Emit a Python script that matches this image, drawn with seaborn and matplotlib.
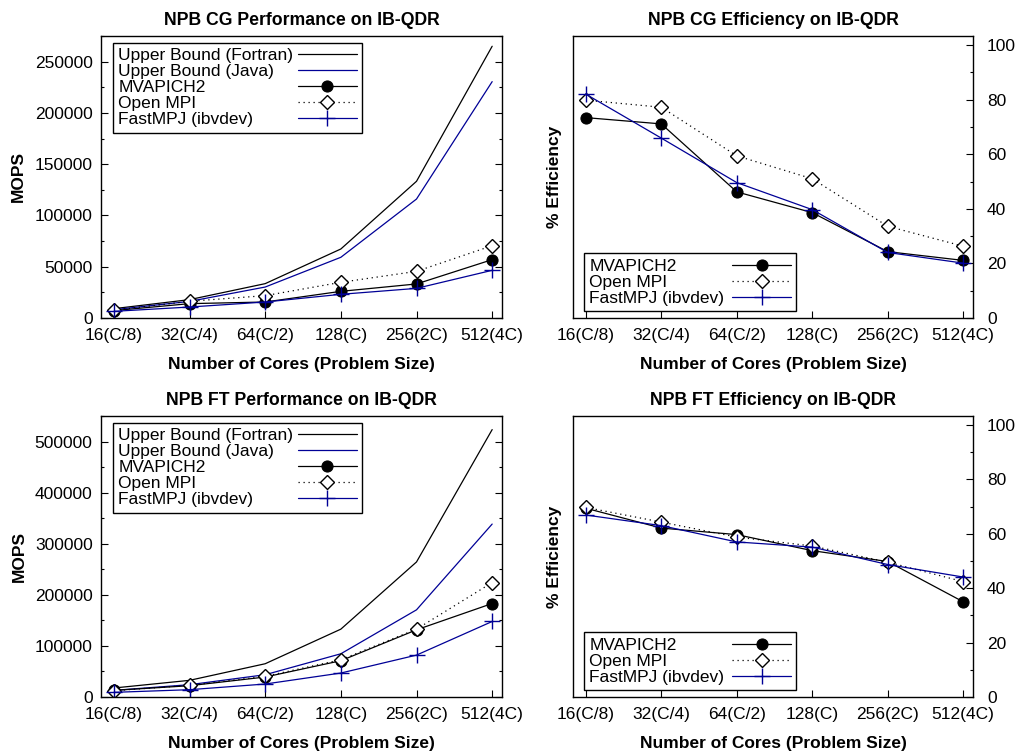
import numpy as np
import pandas as pd
import matplotlib
matplotlib.use("Agg")
import matplotlib.pyplot as plt
import seaborn as sns
from matplotlib.ticker import MultipleLocator

cores = ["16(C/8)", "32(C/4)", "64(C/2)", "128(C)", "256(2C)", "512(4C)"]

cg_fortran = [9100, 17900, 33500, 67300, 133300, 265000]
cg_java = [8100, 16200, 30200, 59200, 116000, 230500]
cg_mvapich = [7200, 14000, 15600, 26000, 33200, 56900]
cg_openmpi = [7500, 16300, 21800, 34800, 45500, 70500]
cg_fastmpj = [6500, 10700, 15600, 23100, 28900, 46500]

cg_eff_mvapich = [73.4, 71.1, 46.2, 38.6, 24.3, 21.1]
cg_eff_openmpi = [79.8, 77.2, 59.4, 51.0, 33.6, 26.3]
cg_eff_fastmpj = [82.0, 65.9, 49.6, 39.7, 24.0, 20.1]

ft_fortran = [17600, 32600, 65100, 132800, 264300, 523400]
ft_java = [13000, 24100, 43600, 84600, 170600, 338500]
ft_mvapich = [13000, 22100, 39100, 71000, 131500, 183000]
ft_openmpi = [12400, 22800, 40400, 72900, 132800, 224000]
ft_fastmpj = [9100, 14300, 25400, 46900, 82000, 147800]

ft_eff_mvapich = [69.4, 62.1, 59.7, 53.8, 49.8, 35.0]
ft_eff_openmpi = [69.7, 64.3, 58.8, 55.5, 49.6, 42.4]
ft_eff_fastmpj = [66.9, 63.0, 57.0, 55.1, 48.7, 44.1]

sns.set_style("ticks")
plt.rcParams["font.family"] = ["Liberation Sans", "DejaVu Sans"]
plt.rcParams["font.size"] = 12.5
plt.rcParams["axes.linewidth"] = 1.0
for k in ["text.color", "axes.labelcolor", "xtick.color", "ytick.color", "axes.edgecolor"]:
    plt.rcParams[k] = "black"

BLUE = "#000096"
BLACK = "#000000"

styles = {
    "Upper Bound (Fortran)": dict(color=BLACK, linestyle="-", marker=None),
    "Upper Bound (Java)": dict(color=BLUE, linestyle="-", marker=None),
    "MVAPICH2": dict(color=BLACK, linestyle="-", marker="o", markersize=8,
                     markerfacecolor=BLACK, markeredgecolor=BLACK),
    "Open MPI": dict(color=BLACK, linestyle=(0, (1, 3)), marker="D", markersize=7,
                     markerfacecolor="white", markeredgecolor=BLACK, markeredgewidth=1.0),
    "FastMPJ (ibvdev)": dict(color=BLUE, linestyle="-", marker="+", markersize=11,
                             markeredgecolor=BLUE, markeredgewidth=1.0),
}

W, H = 1019, 753
DPI = 100
fig = plt.figure(figsize=(W / DPI, H / DPI), dpi=DPI)
renderer = fig.canvas.get_renderer()

def rect(x0, y0, x1, y1):
    return [x0 / W, 1 - y1 / H, (x1 - x0) / W, (y1 - y0) / H]

def draw(ax, series):
    for name, vals in series:
        df = pd.DataFrame({"cores": cores, "value": vals})
        st = styles[name]
        sns.lineplot(data=df, x="cores", y="value", ax=ax, label=name,
                     linewidth=0.9, sort=False, **st)
    ax.set_xlim(-0.17, 5.13)

def left_align_legend(leg, base_sep):
    texts = leg.get_texts()
    widths = [t.get_window_extent(renderer).width for t in texts]
    maxw = max(widths)
    col = leg._legend_handle_box.get_children()[0]
    for entry, w in zip(col.get_children(), widths):
        entry.sep = base_sep + (maxw - w) * 72.0 / DPI

def make_legend(ax, loc, anchor, textpad):
    leg = ax.legend(loc=loc, bbox_to_anchor=anchor, borderaxespad=0,
                    markerfirst=False, fancybox=False, edgecolor="black", framealpha=1,
                    handlelength=3.4, handletextpad=textpad, labelspacing=0.05,
                    borderpad=0.3, fontsize=12.5)
    leg.get_frame().set_linewidth(1.0)
    left_align_legend(leg, textpad * 12.5)

def common(ax, title):
    ax.set_title(title, fontweight="bold", fontsize=12.7, pad=8)
    ax.set_xlabel("Number of Cores (Problem Size)", fontweight="bold", fontsize=12.5, labelpad=10)
    ax.tick_params(axis="x", direction="in", length=5, width=0.8, pad=7, top=False)
    for s in ax.spines.values():
        s.set_visible(True)
        s.set_linewidth(1.0)
        s.set_color("black")

def perf_axes(ax, title, ymax, major, minor):
    common(ax, title)
    ax.set_ylim(0, ymax)
    ax.yaxis.set_major_locator(MultipleLocator(major))
    ax.yaxis.set_minor_locator(MultipleLocator(minor))
    ax.tick_params(axis="y", which="major", direction="in", length=5, width=0.8,
                   left=True, right=True, pad=6)
    ax.tick_params(axis="y", which="minor", direction="in", length=2.5, width=0.8,
                   left=True, right=True)
    ax.set_ylabel("MOPS", fontweight="bold", fontsize=12.5, labelpad=6)
    make_legend(ax, "upper left", (0.03, 0.975), 0.25)

def eff_axes(ax, title):
    common(ax, title)
    ax.set_ylim(0, 103.3)
    ax.yaxis.set_major_locator(MultipleLocator(20))
    ax.yaxis.set_minor_locator(MultipleLocator(10))
    ax.yaxis.tick_right()
    ax.tick_params(axis="y", which="major", direction="in", length=5, width=0.8,
                   left=False, right=True, labelleft=False, labelright=True, pad=10)
    ax.tick_params(axis="y", which="minor", direction="in", length=2.5, width=0.8,
                   left=False, right=True)
    ax.yaxis.set_label_position("left")
    ax.set_ylabel("% Efficiency", fontweight="bold", fontsize=12.5, labelpad=8)
    make_legend(ax, "lower left", (0.0275, 0.025), 0.45)

ax1 = fig.add_axes(rect(101, 36, 502, 318))
draw(ax1, [("Upper Bound (Fortran)", cg_fortran), ("Upper Bound (Java)", cg_java),
           ("MVAPICH2", cg_mvapich), ("Open MPI", cg_openmpi), ("FastMPJ (ibvdev)", cg_fastmpj)])
perf_axes(ax1, "NPB CG Performance on IB-QDR", 275000, 50000, 25000)

ax2 = fig.add_axes(rect(573, 36, 973, 318))
draw(ax2, [("MVAPICH2", cg_eff_mvapich), ("Open MPI", cg_eff_openmpi),
           ("FastMPJ (ibvdev)", cg_eff_fastmpj)])
eff_axes(ax2, "NPB CG Efficiency on IB-QDR")

ax3 = fig.add_axes(rect(101, 416, 502, 697))
draw(ax3, [("Upper Bound (Fortran)", ft_fortran), ("Upper Bound (Java)", ft_java),
           ("MVAPICH2", ft_mvapich), ("Open MPI", ft_openmpi), ("FastMPJ (ibvdev)", ft_fastmpj)])
perf_axes(ax3, "NPB FT Performance on IB-QDR", 550000, 100000, 50000)

ax4 = fig.add_axes(rect(573, 416, 973, 697))
draw(ax4, [("MVAPICH2", ft_eff_mvapich), ("Open MPI", ft_eff_openmpi),
           ("FastMPJ (ibvdev)", ft_eff_fastmpj)])
eff_axes(ax4, "NPB FT Efficiency on IB-QDR")

fig.savefig("out.png", dpi=DPI, facecolor="white")
